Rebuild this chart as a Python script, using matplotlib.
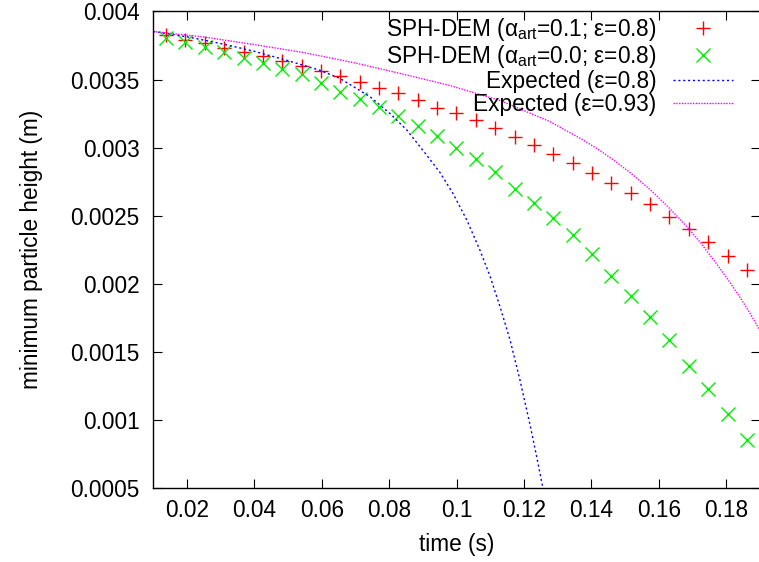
import matplotlib
matplotlib.use("Agg")
import matplotlib.pyplot as plt

plt.rcParams['font.family'] = ['Liberation Sans', 'DejaVu Sans']
plt.rcParams['mathtext.default'] = 'regular'

# ---- data ----
time_sim = [0.0138, 0.0195, 0.0253, 0.0310, 0.0368, 0.0425, 0.0483, 0.0540,
            0.0597, 0.0655, 0.0712, 0.0770, 0.0827, 0.0885, 0.0942, 0.0999,
            0.1057, 0.1114, 0.1172, 0.1229, 0.1287, 0.1344, 0.1402, 0.1459,
            0.1516, 0.1574, 0.1631, 0.1689, 0.1746, 0.1804, 0.1861]
height_art01 = [0.003827, 0.003791, 0.003766, 0.003734, 0.003700, 0.003673,
                0.003639, 0.003600, 0.003563, 0.003526, 0.003484, 0.003436,
                0.003404, 0.003350, 0.003293, 0.003252, 0.003203, 0.003147,
                0.003080, 0.003019, 0.002953, 0.002887, 0.002814, 0.002740,
                0.002667, 0.002586, 0.002491, 0.002402, 0.002307, 0.002204,
                0.002101]
height_art00 = [0.003803, 0.003778, 0.003741, 0.003700, 0.003661, 0.003624,
                0.003575, 0.003539, 0.003477, 0.003411, 0.003355, 0.003301,
                0.003235, 0.003159, 0.003086, 0.002997, 0.002917, 0.002821,
                0.002696, 0.002593, 0.002483, 0.002358, 0.002219, 0.002057,
                0.001910, 0.001756, 0.001587, 0.001396, 0.001227, 0.001044,
                0.000853]

time_exp08 = [0.0100, 0.0198, 0.0297, 0.0396, 0.0495, 0.0594, 0.0653, 0.0743,
              0.0802, 0.0852, 0.0906, 0.0951, 0.0990, 0.1030, 0.1069, 0.1099,
              0.1129, 0.1159, 0.1188, 0.1218, 0.1238, 0.1256]
height_exp08 = [0.003853, 0.003815, 0.003766, 0.003710, 0.003642, 0.003568,
                0.003509, 0.003374, 0.003251, 0.003130, 0.002961, 0.002816,
                0.002660, 0.002469, 0.002248, 0.002057, 0.001830, 0.001583,
                0.001293, 0.000963, 0.000724, 0.000500]

time_exp093 = [0.0100, 0.0248, 0.0396, 0.0544, 0.0693, 0.0832, 0.0980, 0.1129,
               0.1277, 0.1376, 0.1426, 0.1475, 0.1524, 0.1574, 0.1623, 0.1673,
               0.1722, 0.1771, 0.1811, 0.1841, 0.1871, 0.1900]
height_exp093 = [0.003853, 0.003813, 0.003758, 0.003699, 0.003625, 0.003545,
                 0.003456, 0.003346, 0.003191, 0.003055, 0.002978, 0.002892,
                 0.002798, 0.002692, 0.002576, 0.002448, 0.002307, 0.002148,
                 0.002010, 0.001900, 0.001782, 0.001657]

x_ticks = [0.02, 0.04, 0.06, 0.08, 0.1, 0.12, 0.14, 0.16, 0.18]
x_tick_labels = ['0.02', '0.04', '0.06', '0.08', '0.1', '0.12', '0.14', '0.16', '0.18']
y_ticks = [0.0005, 0.001, 0.0015, 0.002, 0.0025, 0.003, 0.0035, 0.004]
y_tick_labels = ['0.0005', '0.001', '0.0015', '0.002', '0.0025', '0.003', '0.0035', '0.004']

labels = [r'SPH-DEM ($α_{art}$=0.1; ε=0.8)',
          r'SPH-DEM ($α_{art}$=0.0; ε=0.8)',
          'Expected (ε=0.8)',
          'Expected (ε=0.93)']

FS = 16.3

# ---- figure ----
fig = plt.figure(figsize=(7.59, 5.62), dpi=100)
ax = fig.add_axes([0.2020, 0.1317, 0.7992, 0.8479])

ax.plot(time_sim, height_art01, linestyle='none', marker='+', color='#ff0000',
        markersize=10, markeredgewidth=1.0, label=labels[0])
ax.plot(time_sim, height_art00, linestyle='none', marker='x', color='#00f000',
        markersize=10, markeredgewidth=1.0, label=labels[1])
ax.plot(time_exp08, height_exp08, color='#0000ff', linewidth=1.0,
        linestyle=(0, (1.5, 2.0)), label=labels[2])
ax.plot(time_exp093, height_exp093, color='#ff00ff', linewidth=1.0,
        linestyle=(0, (1.0, 1.0)), label=labels[3])

ax.set_xlim(0.01, 0.19)
ax.set_ylim(0.0005, 0.004)
ax.set_xticks(x_ticks)
ax.set_xticklabels(x_tick_labels)
ax.set_yticks(y_ticks)
ax.set_yticklabels(y_tick_labels)

ax.tick_params(direction='in', length=6.5, width=0.8, labelsize=FS,
               top=True, right=True, colors='black')
ax.tick_params(axis='x', pad=8)
ax.tick_params(axis='y', pad=10)
for s in ax.spines.values():
    s.set_linewidth(1.0)
    s.set_color('black')

ax.set_xlabel('time (s)', fontsize=FS)
ax.set_ylabel('minimum particle height (m)', fontsize=FS)
ax.xaxis.set_label_coords(0.5, -0.095)
ax.yaxis.set_label_coords(-0.182, 0.5)

leg = ax.legend(loc='upper right', bbox_to_anchor=(0.9557, 0.99),
                markerfirst=False, frameon=False, fontsize=FS,
                handlelength=2.66, handletextpad=0.71, labelspacing=0.0,
                borderpad=0.0, borderaxespad=0.0, numpoints=1)

fig.savefig('out.png', dpi=100)
